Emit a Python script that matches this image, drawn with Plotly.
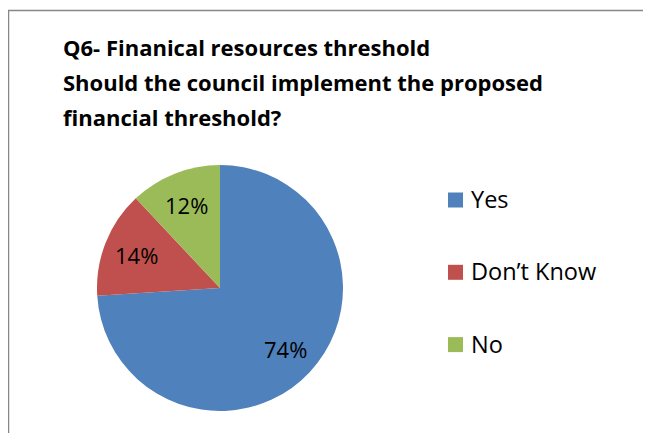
import math
import plotly.graph_objects as go

labels = ["Yes", "Don\u2019t Know", "No"]
values = [74, 14, 12]
colors = ["#4F81BD", "#C0504D", "#9BBB59"]
title_lines = ["Q6- Finanical resources threshold",
               "Should the council implement the proposed",
               "financial threshold?"]

# page body has an 8px margin; lay out in reference-pixel coordinates and convert
OFF = 8
W, H = 651, 441
FW, FH = W - 2 * OFF, H - 2 * OFF


def px(x):
    return (x - OFF) / FW


def py(y):
    return 1 - (y - OFF) / FH


CX, CY, R = 220, 288, 123

fig = go.Figure(go.Pie(
    labels=labels, values=values, sort=False, direction="clockwise", rotation=0,
    marker=dict(colors=colors, line=dict(width=0)),
    textinfo="none",
    domain=dict(x=[px(CX - R), px(CX + R)], y=[py(CY + R), py(CY - R)]),
    showlegend=False, hoverinfo="label+percent",
))

shapes = [dict(type="rect", xref="paper", yref="paper", x0=px(8.5), x1=1.05, y0=-0.05, y1=py(10.5),
               line=dict(color="#878787", width=1.5), fillcolor="rgba(0,0,0,0)")]
annotations = []
for i, t in enumerate(title_lines):
    annotations.append(dict(text="<b>" + t + "</b>", x=px(61), y=py(47 + 35 * i), xref="paper", yref="paper",
                            xanchor="left", yanchor="middle", showarrow=False,
                            font=dict(family="Open Sans", size=22, color="black")))

# slice percentage labels, placed along each slice's mid-angle
total = sum(values)
cum = 0
for v in values:
    mid = (cum + v / 2) / total * 2 * math.pi
    cum += v
    lx = CX + 0.73 * R * math.sin(mid)
    ly = CY - 0.73 * R * math.cos(mid)
    annotations.append(dict(text=f"{round(100 * v / total)}%", x=px(lx), y=py(ly), xref="paper", yref="paper",
                            xanchor="center", yanchor="middle", showarrow=False,
                            font=dict(family="Open Sans", size=22, color="black")))

for i, (lab, col) in enumerate(zip(labels, colors)):
    yc = 200 + 72.3 * i
    shapes.append(dict(type="rect", xref="paper", yref="paper", x0=px(448), x1=px(463),
                       y0=py(yc + 7.5), y1=py(yc - 7.5), fillcolor=col, line=dict(width=0)))
    annotations.append(dict(text=lab, x=px(469), y=py(yc - 1), xref="paper", yref="paper",
                            xanchor="left", yanchor="middle", showarrow=False,
                            font=dict(family="Open Sans", size=23.5, color="black")))

fig.update_layout(width=FW, height=FH, margin=dict(l=0, r=0, t=0, b=0),
                  paper_bgcolor="white", plot_bgcolor="white",
                  shapes=shapes, annotations=annotations)
fig.write_html("out.html")
